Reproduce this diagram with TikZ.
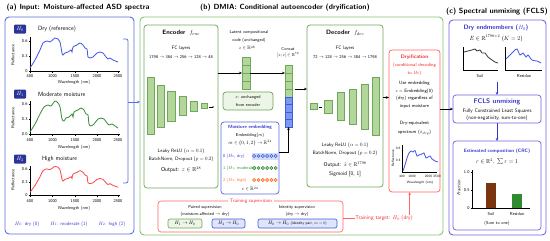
\documentclass[tikz,border=0pt]{standalone}
\usepackage{amsmath,amssymb}
\usetikzlibrary{arrows.meta,fit,calc}
\definecolor{pA}{HTML}{5B6EE1}
\definecolor{pB}{HTML}{86C070}
\definecolor{pC}{HTML}{7466E0}
\definecolor{hbox}{HTML}{2B3499}
\definecolor{specB}{HTML}{4B5BE8}
\definecolor{specG}{HTML}{3F8F3F}
\definecolor{specR}{HTML}{FF4D4D}
\definecolor{barF}{HTML}{B3D69B}
\definecolor{barD}{HTML}{6FA85A}
\definecolor{blueF}{HTML}{7D97F2}
\definecolor{blueD}{HTML}{3F5BD8}
\definecolor{redB}{HTML}{FF6666}
\definecolor{redT}{HTML}{F02828}
\definecolor{txtB}{HTML}{3535C8}
\definecolor{brownS}{HTML}{7A3510}
\definecolor{greenR}{HTML}{2E8B2E}
\definecolor{orangeC}{HTML}{FF6A20}
\newcommand{\fsz}[1]{\fontsize{\fpeval{2.4*#1}}{\fpeval{2.4*#1}}\selectfont}
\tikzset{
  every node/.style={inner sep=0pt, outer sep=0pt},
  panelA/.style={draw=pA, line width=1.8pt, rounded corners=8pt},
  panelB/.style={draw=pB, line width=1.8pt, rounded corners=8pt},
  panelC/.style={draw=pC, line width=1.8pt, rounded corners=8pt},
  ptitle/.style={font=\sffamily\bfseries\fsz{6.2}},
  netbox/.style={draw=barD, line width=1.5pt, rounded corners=6pt},
  barbox/.style={draw=barD, fill=barF, line width=1pt},
  cellB/.style={draw=blueD, fill=blueF, line width=1pt},
  hlab/.style={fill=hbox, text=white, rounded corners=2pt, minimum width=24pt, minimum height=18pt, font=\fsz{4.6}},
  arr/.style={-{Stealth[length=6pt,width=5pt]}, line width=1.3pt},
  tx/.style={font=\sffamily\fsz{3.6}},
  sm/.style={font=\sffamily\fsz{4.1}},
  md/.style={font=\sffamily\fsz{4.8}},
  lab/.style={font=\sffamily\fsz{5.1}},
  drt/.style={font=\sffamily\fsz{3.9}},
  axl/.style={line width=1pt},
  spec/.style={line width=1.7pt},
  pairG/.style={draw=barD, fill=barF!25, rounded corners=4pt, minimum height=18pt, line width=1.3pt, font=\fsz{4.3}},
  pairB/.style={draw=blueD, fill=blueF!25, rounded corners=4pt, minimum height=18pt, line width=1.3pt, font=\fsz{4.3}},
}
\begin{document}
\begin{tikzpicture}[x=2pt,y=-2pt,font=\sffamily]
\useasboundingbox (0,0) rectangle (550,240);

% ---------- titles ----------
\node[ptitle] (ta) at (78,8) {(a) Input: Moisture-affected ASD spectra};
\node[ptitle] (tb) at (285,8) {(b) DMIA: Conditional autoencoder (dryification)};
\node[ptitle] (tc) at (497,12) {(c) Spectral unmixing (FCLS)};

% ---------- panels ----------
\node[panelA, fit={(5,17) (134,234)}] (pa) {};
\node[panelB, fit={(140,17) (443,235)}] (pb) {};
\node[panelC, fit={(449,20) (546,235)}] (pc) {};

% ---------- panel (a) ----------
\node[hlab] (h0) at (20,29) {$H_0$};
\node[lab, anchor=west] (l0) at (38,29) {Dry (reference)};
\draw[axl] (30,37) -- (30,71) -- (120,71);
\foreach \t/\v in {41/0.6,56/0.3,71/0} {\draw[axl] (28.5,\t) -- (30,\t); \node[tx, anchor=east] at (27.5,\t) {\v};}
\foreach \x/\v in {30/400,52.5/1000,75/1500,97/2000,118/2500} {\draw[axl] (\x,71) -- (\x,72.5); \node[tx] at (\x,76) {\v};}
\node[tx, rotate=90] at (13,55) {Reflectance};
\node[tx] at (74,82) {Wavelength (nm)};
\begin{scope}[shift={(30,71)}]
\draw[spec, specB] plot[smooth, tension=0.5] coordinates {(0,-3) (5,-11) (10,-21) (13,-28) (17,-30) (20,-29) (25,-33) (28,-32) (30,-29) (32,-18) (33,-16) (35,-18) (38,-19) (41,-21) (42,-19) (43,-24) (47,-26) (50,-28) (53,-26) (55,-23) (57,-22) (58,-14) (60,-13) (63,-14) (67,-18) (70,-19) (73,-18) (76,-14) (78,-12) (80,-13) (83,-11) (88,-9)};
\end{scope}

\node[hlab] (h1) at (20,94) {$H_1$};
\node[lab, anchor=west] (l1) at (38,94) {Moderate moisture};
\draw[axl] (30,101) -- (30,134) -- (120,134);
\foreach \t/\v in {104/0.6,119/0.3,134/0.0} {\draw[axl] (28.5,\t) -- (30,\t); \node[tx, anchor=east] at (27.5,\t) {\v};}
\foreach \x/\v in {30/400,52.5/1000,75/1500,97/2000,118/2500} {\draw[axl] (\x,134) -- (\x,135.5); \node[tx] at (\x,140) {\v};}
\node[tx, rotate=90] at (13,118) {Reflectance};
\node[tx] at (74,147) {Wavelength (nm)};
\begin{scope}[shift={(30,134)}]
\draw[spec, specG] plot[smooth, tension=0.5] coordinates {(0,-2) (5,-10) (10,-20) (14,-27) (18,-29) (21,-28) (25,-33) (28,-31) (30,-27) (32,-15) (34,-13) (36,-16) (39,-17) (42,-20) (43,-17) (44,-22) (48,-24) (51,-26) (54,-24) (56,-20) (58,-19) (59,-10) (61,-8) (64,-10) (68,-15) (71,-16) (74,-15) (77,-11) (79,-9) (82,-10) (85,-8) (88,-6)};
\end{scope}

\node[hlab] (h2) at (20,159) {$H_2$};
\node[lab, anchor=west] (l2) at (42,159) {High moisture};
\draw[axl] (30,166) -- (30,195) -- (120,195);
\foreach \t/\v in {169/0.6,182/0.3,195/0} {\draw[axl] (28.5,\t) -- (30,\t); \node[tx, anchor=east] at (27.5,\t) {\v};}
\foreach \x/\v in {30/400,52.5/1000,75/1500,97/2000,118/2500} {\draw[axl] (\x,195) -- (\x,196.5); \node[tx] at (\x,201) {\v};}
\node[tx, rotate=90] at (13,180) {Reflectance};
\node[tx] at (74,208) {Wavelength (nm)};
\begin{scope}[shift={(30,195)}, yscale=0.87]
\draw[spec, specR] plot[smooth, tension=0.5] coordinates {(0,-3) (5,-11) (10,-21) (13,-28) (17,-30) (20,-29) (25,-33) (28,-32) (30,-29) (32,-18) (33,-16) (35,-18) (38,-19) (41,-21) (42,-19) (43,-24) (47,-26) (50,-28) (53,-26) (55,-23) (57,-22) (58,-14) (60,-13) (63,-14) (67,-18) (70,-19) (73,-18) (76,-14) (78,-12) (80,-13) (83,-11) (88,-9)};
\end{scope}

\node[sm, text=txtB] (lg0) at (27,224) {$H_0$: dry (0)};
\node[sm, text=txtB] (lg1) at (69,224) {$H_1$: moderate (1)};
\node[sm, text=txtB] (lg2) at (112,224) {$H_2$: high (2)};

\draw[pA, line width=1.6pt, rounded corners=4pt] (123,39) -- (128,39) -- (128,183) -- (123,183);
\coordinate (brm) at (128,102);
\draw[arr, pA, line width=1.6pt] (brm) -- (pb.west |- brm);

% ---------- panel (b): encoder ----------
\node[netbox, fit={(144,25) (218,188)}] (enc) {};
\node[font=\sffamily\bfseries\fsz{5.2}] (encT) at (181,33) {Encoder\; {\mdseries$f_{enc}$}};
\node[sm] at (181,48) {FC layers};
\node[tx] at (181,57) {1798 $\to$ 384 $\to$ 256 $\to$ 128 $\to$ 48};
\foreach \xa/\xb/\h in {147/154/57, 157/164/42, 167/175/30, 179/186/19, 190/197/10, 201/207/5}
  {\draw[barbox] (\xa,{106-\h/2}) rectangle (\xb,{106+\h/2});}
\draw[line width=1pt, -{Stealth[length=3pt,width=3pt]}] (209,107) -- (214,107);
\node[sm] at (181,151) {Leaky ReLU ($\alpha = 0.1$)};
\node[sm] at (181,159) {BatchNorm, Dropout ($p = 0.2$)};
\node[md] at (181,170) {Output: $z\in\mathbb{R}^{48}$};

\node[tx] at (249,32) {Latent compositional};
\node[tx] at (249,40) {code (unchanged)};
\node[sm] at (247,48) {$z\in\mathbb{R}^{48}$};
\node[fit={(242,57) (250,89)}] (lat) {};
\foreach \i in {0,...,3} {\draw[barbox] (242,{57+8*\i}) rectangle (250,{65+8*\i});}
\draw[arr] (enc.east |- lat) -- (lat.west);
\node[netbox, fill=barF!25, fit={(223,92) (273,110)}] (zun) {};
\node[tx] at (248,97.5) {$z$: unchanged};
\node[tx] at (248,104.5) {from encoder};

\node[tx] at (288,49) {Concat};
\node[tx] at (288,55.5) {$[z;c]\in\mathbb{R}^{72}$};
\node[fit={(285,65) (292,127)}] (cat) {};
\foreach \i in {0,...,3} {\draw[barbox] (285,{65+8*\i}) rectangle (292,{73+8*\i});}
\foreach \i in {0,...,3} {\draw[cellB] (285,{97+7.5*\i}) rectangle (292,{104.5+7.5*\i});}
\draw[arr] (lat.east) -- (lat.east -| cat.west);

\node[draw=pA, line width=1.5pt, rounded corners=6pt, fit={(221,122) (279,194)}] (emb) {};
\node[font=\sffamily\bfseries\fsz{3.9}, text=txtB] at (250,127.5) {Moisture embedding};
\node[tx] at (250,135) {Embedding($m$)};
\node[sm] at (250,143) {$m\in\{0,1,2\}\to\mathbb{R}^{24}$};
\fill[blueF!35] (251.5,152.5) rectangle (278,159.5);
\node[tx, text=txtB, anchor=west] at (223,156) {0 ($H_0$, dry)};
\node[tx, text=greenR, anchor=west] at (223,168) {1 ($H_1$, moderate)};
\node[tx, text=orangeC, anchor=west] at (223,180) {2 ($H_2$, high)};
\foreach \i in {0,...,5} {
  \draw[blueD, fill=blueF!50, line width=1.1pt] ({254.2+4.3*\i},156) circle (1.6);
  \draw[greenR, fill=greenR!35, line width=1.1pt] ({254.2+4.3*\i},168) circle (1.6);
  \draw[orangeC, fill=orangeC!40, line width=1.1pt] ({254.2+4.3*\i},180) circle (1.6);
}
\node[sm] at (250,189) {$c\in\mathbb{R}^{24}$};
\coordinate (embout) at (279,152);
\draw[arr] (embout) -| (cat.south);

\node[netbox, fit={(307,25) (383,187)}] (dec) {};
\node[font=\sffamily\bfseries\fsz{5.2}] (decT) at (345,33) {Decoder\; {\mdseries$f_{dec}$}};
\node[sm] at (345,48) {FC layers};
\node[tx] at (345,57) {72 $\to$ 128 $\to$ 256 $\to$ 384 $\to$ 1798};
\foreach \xa/\xb/\h in {310/317/6, 324/332/13, 337/344/28, 349/356/35, 361/368/45, 372/379/58}
  {\draw[barbox] (\xa,{106.5-\h/2}) rectangle (\xb,{106.5+\h/2});}
\draw[line width=1pt] (319,107) -- (322,107);
\node[sm] at (345,145) {Leaky ReLU ($\alpha = 0.1$)};
\node[sm] at (345,153) {BatchNorm, Dropout ($p = 0.2$)};
\node[font=\sffamily\fsz{4.6}] at (345,164.5) {Output: $\hat{x}\in\mathbb{R}^{1798}$};
\node[font=\sffamily\fsz{4.6}] at (345,174.5) {Sigmoid [0, 1]};
\coordinate (catout) at (295,89);
\draw[arr] (catout) -- (catout -| dec.west);

\node[draw=redB, line width=1.5pt, rounded corners=6pt, fit={(389,50) (440,192)}] (dry) {};
\node[font=\sffamily\bfseries\fsz{4.3}, text=redT] at (414.5,57) {Dryification};
\node[drt, text=redT] at (414.5,65) {(conditional decoding};
\node[drt, text=redT] at (414.5,73) {to $H_0$)};
\node[drt] at (414.5,83) {Use embedding};
\node[drt] at (414.5,91) {$c=$ Embedding(0)};
\node[drt] at (414.5,98.5) {(dry) regardless of};
\node[drt] at (414.5,106) {input moisture};
\node[drt] at (414.5,123.5) {Dry-equivalent};
\node[drt] at (414.5,132.5) {spectrum ($\hat{x}_{dry}$)};
\draw[axl] (402,145) -- (402,172) -- (437,172);
\node[font=\sffamily\fsz{2.8}, anchor=east] at (400.5,148) {0.6};
\node[font=\sffamily\fsz{2.8}, anchor=east] at (400.5,160) {0.3};
\node[font=\sffamily\fsz{2.8}, rotate=90] at (393,158) {Reflectance};
\foreach \x/\v in {402/400,412/1000,428.5/2000,437/2500} {\node[font=\sffamily\fsz{2.8}] at (\x,176.5) {\v};}
\node[font=\sffamily\fsz{2.8}] at (420,182.5) {Wavelength (nm)};
\draw[spec, specB] plot[smooth, tension=0.5] coordinates {(403,171) (405,165) (407,158) (409,153) (411,151) (413,152) (415,150.5) (417,156) (419,155) (422,154) (424,153) (426,158) (428,157) (430,156) (432,159) (435,161) (438,162)};
\coordinate (y97) at (0,97.5);
\draw[arr] (dec.east |- y97) -- (dry.west |- y97);

\node[draw=redB, line width=1.3pt, rounded corners=6pt, fit={(158,201) (343,232)}] (sup) {};
\node[fill=white, inner xsep=3pt, font=\sffamily\fsz{4.2}, text=redT] (supT) at (251,201) {Training supervision};
\node[tx] at (205,207.5) {Paired supervision};
\node[tx] at (205,214) {(moisture-affected $\to$ dry)};
\node[tx] at (297,207.5) {Identity supervision};
\node[tx] at (297,214) {(dry $\to$ dry)};
\node[pairG, minimum width=68pt] (p1) at (185,223.5) {$H_1\to H_0$};
\node[pairB, minimum width=66pt] (p2) at (228.5,223.5) {$H_2\to H_0$};
\node[pairB, minimum width=158pt] (p3) at (297.5,223.5) {$H_0\to H_0$ {\sffamily\fsz{3.1}(identity pair, $m=0$)}};
\node[font=\sffamily\fsz{4.6}, text=redT] (tt) at (384,218) {Training target: $H_0$ (dry)};
\draw[redB, line width=1.3pt] (sup.east |- tt) -- (tt.west);
\draw[arr, redB] ([xshift=-6pt]tt.north east) -- ([xshift=-6pt]tt.north east |- dry.south);

% ---------- panel (c) ----------
\node[font=\sffamily\bfseries\fsz{5.3}, text=txtB] (dem) at (496,28) {Dry endmembers ($H_0$)};
\node[md] (emat) at (496,38.5) {$E\in\mathbb{R}^{1798\times 2}$ ($K=2$)};
\draw[axl] (463,47) -- (463,70) -- (498,70);
\draw[axl] (505,47) -- (505,70) -- (542,70);
\draw[line width=1.6pt, black!80] plot[smooth, tension=0.5] coordinates {(464,52) (468,51) (472,50) (475,49) (477,51) (480,50) (482,53) (485,53) (488,57) (492,60) (495,62) (498,63)};
\draw[spec, specB] plot[smooth, tension=0.5] coordinates {(506,59) (510,55) (514,51) (517,49) (520,55) (523,53) (526,57) (528,55) (532,60) (537,61) (541,63)};
\node[tx] (soilL) at (480,76) {Soil};
\node[tx] (resL) at (524,76) {Residue};
\node[draw=pC, line width=1.5pt, rounded corners=6pt, fit={(453,95) (541,123)}] (fcls) {};
\node[font=\sffamily\bfseries\fsz{5.6}, text=txtB] at (497,102) {FCLS unmixing};
\node[font=\sffamily\fsz{4.3}] at (497,111.5) {Fully Constrained Least Squares};
\node[font=\sffamily\fsz{4.3}] at (497,118.5) {(non-negativity, sum-to-one)};
\coordinate (endbot) at (497,82);
\draw[arr, txtB] (endbot) -- (endbot |- fcls.north);
\draw[arr] (dry.east |- fcls) -- (fcls.west);

\node[draw=pC, line width=1.5pt, rounded corners=6pt, fit={(453,141) (541,230)}] (est) {};
\draw[arr, txtB] (fcls.south) -- (est.north);
\node[font=\sffamily\bfseries\fsz{4}, text=txtB] at (497,151.5) {Estimated composition (CRC)};
\node[md] at (497,161.5) {$r\in\mathbb{R}^2,\ \sum r=1$};
\draw[axl] (472,170) -- (472,208) -- (530,208);
\foreach \t/\v in {172/1.0,190/0.5,208/0} {\draw[axl] (470.5,\t) -- (472,\t); \node[tx, anchor=east] at (469.5,\t) {\v};}
\node[tx, rotate=90] at (459,188) {\itshape Fraction};
\fill[brownS] (486,182.5) rectangle (496,208);
\fill[greenR] (512,194) rectangle (522,208);
\node[tx] at (491,214) {Soil};
\node[tx] at (517,214) {Residue};
\node[tx] at (497,223.5) {(Sum to one)};
\end{tikzpicture}
\end{document}
